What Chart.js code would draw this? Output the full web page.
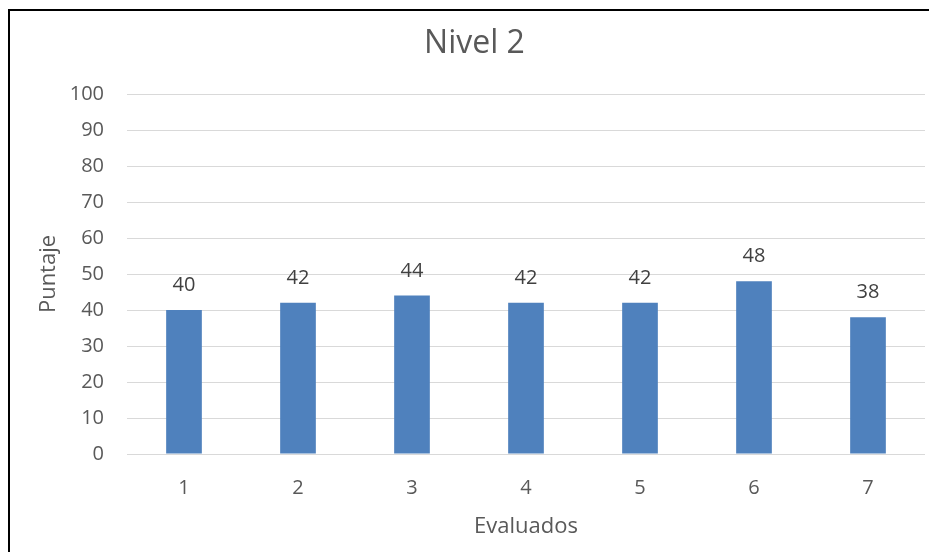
<!DOCTYPE html>
<html lang="es">
<head>
<meta charset="utf-8">
<title>Nivel 2</title>
<script src="https://cdn.jsdelivr.net/npm/chart.js@4"></script>
<style>
  html, body { margin: 0; padding: 0; background: #ffffff; }
  #wrap { position: relative; width: 929px; height: 552px; overflow: hidden; }
  #chart { position: absolute; left: 0; top: 0; }
  #frame {
    position: absolute; left: 8px; top: 9px; width: 1000px; height: 600px;
    border-top: 2px solid #000; border-left: 2px solid #000;
    pointer-events: none;
  }
</style>
</head>
<body>
<div id="wrap">
  <canvas id="chart" width="929" height="552"></canvas>
  <div id="frame"></div>
</div>
<script>
// Puntaje por evaluado
const categories = ['1', '2', '3', '4', '5', '6', '7'];
const puntajes = [40, 42, 44, 42, 42, 48, 38];
const yTicks = [0, 10, 20, 30, 40, 50, 60, 70, 80, 90, 100];

const FONT = "'Open Sans', 'Liberation Sans', sans-serif";

// Valor encima de cada barra
const valueLabels = {
  id: 'valueLabels',
  afterDatasetsDraw(chart) {
    const ctx = chart.ctx;
    const meta = chart.getDatasetMeta(0);
    ctx.save();
    ctx.font = '20px ' + FONT;
    ctx.fillStyle = '#404040';
    ctx.textAlign = 'center';
    ctx.textBaseline = 'alphabetic';
    meta.data.forEach((bar, i) => {
      ctx.fillText(String(puntajes[i]), bar.x, bar.y - 19);
    });
    ctx.restore();
  }
};

new Chart(document.getElementById('chart'), {
  type: 'bar',
  data: {
    labels: categories,
    datasets: [{
      data: puntajes,
      backgroundColor: '#4F81BD',
      borderWidth: 0,
      categoryPercentage: 1,
      barPercentage: 0.313
    }]
  },
  options: {
    responsive: false,
    devicePixelRatio: 1,
    animation: false,
    layout: { padding: { left: 24, right: 4, top: 0, bottom: 0 } },
    plugins: {
      legend: { display: false },
      tooltip: { enabled: false },
      title: {
        display: true,
        text: 'Nivel 2',
        color: '#595959',
        font: { family: FONT, size: 32, weight: 'normal' },
        padding: { top: 25, bottom: 30.6 }
      }
    },
    scales: {
      x: {
        grid: { display: false, drawTicks: false },
        border: { display: false },
        ticks: { color: '#595959', font: { family: FONT, size: 20 }, padding: 22 },
        title: {
          display: true,
          text: 'Evaluados',
          color: '#595959',
          font: { family: FONT, size: 22 },
          padding: { top: 0, bottom: 12 }
        },
        afterFit(scale) { scale.height = 98; }
      },
      y: {
        min: 0,
        max: 100,
        afterBuildTicks(scale) { scale.ticks = yTicks.map(v => ({ value: v })); },
        grid: { color: '#d9d9d9', lineWidth: 1, drawTicks: false },
        border: { display: false },
        ticks: { color: '#595959', font: { family: FONT, size: 20 }, padding: 23 },
        title: {
          display: true,
          text: 'Puntaje',
          color: '#595959',
          font: { family: FONT, size: 22 },
          padding: { top: 12, bottom: 0 }
        },
        afterFit(scale) { scale.width = 103; }
      }
    }
  },
  plugins: [valueLabels]
});
</script>
</body>
</html>
